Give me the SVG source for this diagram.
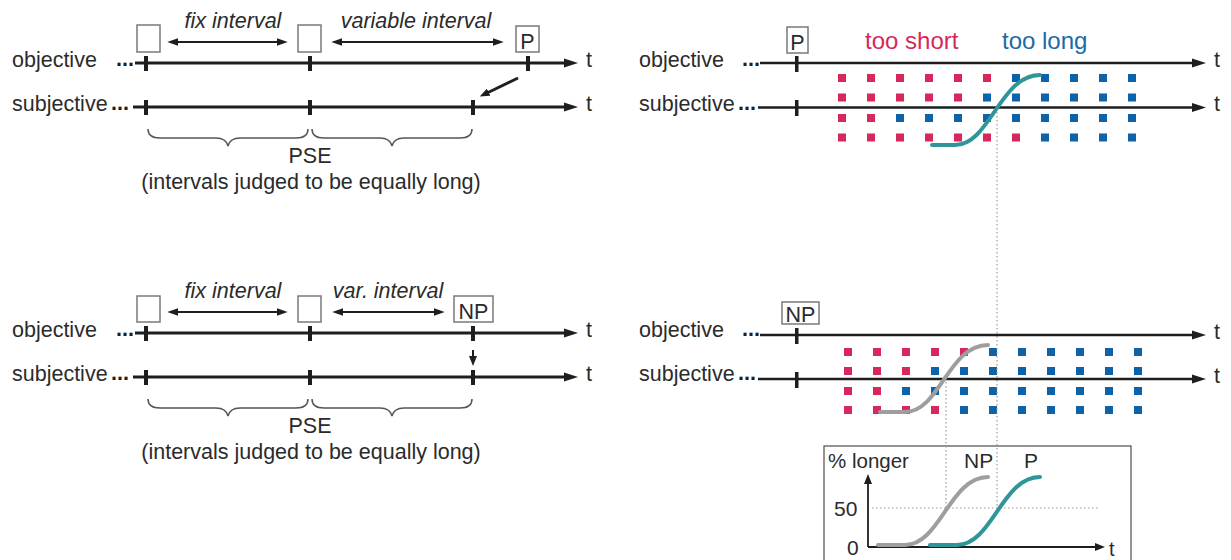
<svg xmlns="http://www.w3.org/2000/svg" width="1231" height="560" viewBox="0 0 1231 560">
  <defs>
    <style>
      text { font-family: "Liberation Sans", Arial, sans-serif; fill: #2b2b2b; }
      .lbl { font-size: 21.5px; }
      .it { font-size: 21.5px; font-style: italic; }
      .dots { font-size: 21.5px; font-weight: bold; fill: #1e1e1e; }
      .axis { stroke: #1e1e1e; stroke-width: 3; fill: none; marker-end: url(#head); }
      .axis2 { stroke: #1e1e1e; stroke-width: 2.4; fill: none; marker-end: url(#head); }
      .tick { fill: #1e1e1e; }
      .box { fill: #fff; stroke: #7a7a7a; stroke-width: 1.5; }
      .dbl { stroke: #1e1e1e; stroke-width: 2; fill: none; marker-start: url(#small); marker-end: url(#small); }
      .brace { stroke: #555; stroke-width: 1.5; fill: none; }
      .r { fill: #d6285a; }
      .b { fill: #0d63a9; }
      .dot { stroke: #9a9a9a; stroke-width: 1.2; stroke-dasharray: 1.5 2.5; fill: none; }
      .teal { stroke: #2f9598; stroke-width: 4; fill: none; stroke-linecap: round; }
      .grey { stroke: #9e9e9e; stroke-width: 4; fill: none; stroke-linecap: round; }
    </style>
    <marker id="head" viewBox="0 0 14 10" markerWidth="14" markerHeight="10" refX="4" refY="5" orient="auto" markerUnits="userSpaceOnUse">
      <path d="M0,0.5 L14,5 L0,9.5 z" fill="#1e1e1e"/>
    </marker>
    <marker id="small" viewBox="0 0 10 8" markerWidth="11" markerHeight="9" refX="3" refY="4" orient="auto-start-reverse" markerUnits="userSpaceOnUse">
      <path d="M0,0.5 L10,4 L0,7.5 z" fill="#1e1e1e"/>
    </marker>
    <marker id="head2" viewBox="0 0 10 8" markerWidth="10" markerHeight="8" refX="3" refY="4" orient="auto" markerUnits="userSpaceOnUse">
      <path d="M0,0 L10,4 L0,8 z" fill="#1e1e1e"/>
    </marker>
  </defs>

  <!-- Panel A: prime condition, timeline -->
  <g id="panel-prime">
    <text class="lbl" x="12" y="67">objective</text>
    <text class="dots" x="116" y="66">...</text>
    <text class="lbl" x="12" y="111">subjective</text>
    <text class="dots" x="111" y="110">...</text>
    <text class="lbl" x="586" y="67">t</text>
    <text class="lbl" x="586" y="111">t</text>
    <rect class="box" x="137" y="25" width="23" height="27"/>
    <rect class="box" x="298" y="25" width="23" height="27"/>
    <rect class="box" x="516" y="26" width="23" height="26"/>
    <text class="lbl" x="527.5" y="49" text-anchor="middle">P</text>
    <text class="it" x="233" y="28" text-anchor="middle">fix interval</text>
    <text class="it" x="416" y="28" text-anchor="middle">variable interval</text>
    <text class="lbl" x="310" y="163" text-anchor="middle">PSE</text>
    <text class="lbl" x="311" y="189" text-anchor="middle">(intervals judged to be equally long)</text>
  </g>

  <!-- Panel B: no-prime condition, timeline -->
  <g id="panel-noprime">
    <text class="lbl" x="12" y="337">objective</text>
    <text class="dots" x="116" y="336">...</text>
    <text class="lbl" x="12" y="381">subjective</text>
    <text class="dots" x="111" y="380">...</text>
    <text class="lbl" x="586" y="337">t</text>
    <text class="lbl" x="586" y="381">t</text>
    <rect class="box" x="137" y="296" width="23" height="26"/>
    <rect class="box" x="298" y="296" width="23" height="26"/>
    <rect class="box" x="454" y="296" width="39" height="26"/>
    <text class="lbl" x="473.5" y="319" text-anchor="middle">NP</text>
    <text class="it" x="233" y="298" text-anchor="middle">fix interval</text>
    <text class="it" x="388" y="298" text-anchor="middle">var. interval</text>
    <text class="lbl" x="310" y="433" text-anchor="middle">PSE</text>
    <text class="lbl" x="311" y="459" text-anchor="middle">(intervals judged to be equally long)</text>
  </g>

  <!-- Panel C: prime condition, judgements -->
  <g id="panel-prime-judge">
    <text class="lbl" x="639" y="67">objective</text>
    <text class="dots" x="742" y="66">...</text>
    <text class="lbl" x="639" y="111">subjective</text>
    <text class="dots" x="738" y="110">...</text>
    <text class="lbl" x="1214" y="67">t</text>
    <text class="lbl" x="1214" y="111">t</text>
    <rect class="box" x="787" y="27" width="21" height="26"/>
    <text class="lbl" x="797.5" y="50" text-anchor="middle">P</text>
    <text x="865" y="49" style="font-size:24px;fill:#d6285a">too short</text>
    <text x="1002" y="49" style="font-size:24px;fill:#1a6aa8">too long</text>
    <g id="grid-prime">
      <rect class="r" x="838" y="74" width="8" height="8"/><rect class="r" x="867" y="74" width="8" height="8"/><rect class="r" x="896" y="74" width="8" height="8"/><rect class="r" x="925" y="74" width="8" height="8"/><rect class="r" x="954" y="74" width="8" height="8"/><rect class="r" x="983" y="74" width="8" height="8"/><rect class="b" x="1012" y="74" width="8" height="8"/><rect class="b" x="1041" y="74" width="8" height="8"/><rect class="b" x="1070" y="74" width="8" height="8"/><rect class="b" x="1099" y="74" width="8" height="8"/><rect class="b" x="1128" y="74" width="8" height="8"/>
      <rect class="r" x="838" y="93.5" width="8" height="8"/><rect class="r" x="867" y="93.5" width="8" height="8"/><rect class="r" x="896" y="93.5" width="8" height="8"/><rect class="r" x="925" y="93.5" width="8" height="8"/><rect class="r" x="954" y="93.5" width="8" height="8"/><rect class="b" x="983" y="93.5" width="8" height="8"/><rect class="b" x="1012" y="93.5" width="8" height="8"/><rect class="b" x="1041" y="93.5" width="8" height="8"/><rect class="b" x="1070" y="93.5" width="8" height="8"/><rect class="b" x="1099" y="93.5" width="8" height="8"/><rect class="b" x="1128" y="93.5" width="8" height="8"/>
      <rect class="r" x="838" y="114" width="8" height="8"/><rect class="r" x="867" y="114" width="8" height="8"/><rect class="b" x="896" y="114" width="8" height="8"/><rect class="b" x="925" y="114" width="8" height="8"/><rect class="b" x="954" y="114" width="8" height="8"/><rect class="b" x="983" y="114" width="8" height="8"/><rect class="b" x="1012" y="114" width="8" height="8"/><rect class="b" x="1041" y="114" width="8" height="8"/><rect class="b" x="1070" y="114" width="8" height="8"/><rect class="b" x="1099" y="114" width="8" height="8"/><rect class="b" x="1128" y="114" width="8" height="8"/>
      <rect class="r" x="838" y="133.5" width="8" height="8"/><rect class="r" x="867" y="133.5" width="8" height="8"/><rect class="r" x="896" y="133.5" width="8" height="8"/><rect class="r" x="925" y="133.5" width="8" height="8"/><rect class="r" x="954" y="133.5" width="8" height="8"/><rect class="r" x="983" y="133.5" width="8" height="8"/><rect class="r" x="1012" y="133.5" width="8" height="8"/><rect class="b" x="1041" y="133.5" width="8" height="8"/><rect class="b" x="1070" y="133.5" width="8" height="8"/><rect class="b" x="1099" y="133.5" width="8" height="8"/><rect class="b" x="1128" y="133.5" width="8" height="8"/>
    </g>
  </g>

  <!-- Panel D: no-prime condition, judgements -->
  <g id="panel-noprime-judge">
    <text class="lbl" x="639" y="337">objective</text>
    <text class="dots" x="742" y="336">...</text>
    <text class="lbl" x="639" y="381">subjective</text>
    <text class="dots" x="738" y="380">...</text>
    <text class="lbl" x="1214" y="339">t</text>
    <text class="lbl" x="1214" y="383">t</text>
    <rect class="box" x="782" y="302" width="37" height="22"/>
    <text class="lbl" x="800.5" y="322" text-anchor="middle">NP</text>
    <g id="grid-noprime">
      <rect class="r" x="844" y="348" width="8" height="8"/><rect class="r" x="873" y="348" width="8" height="8"/><rect class="r" x="902" y="348" width="8" height="8"/><rect class="r" x="931" y="348" width="8" height="8"/><rect class="r" x="960" y="348" width="8" height="8"/><rect class="b" x="989" y="348" width="8" height="8"/><rect class="b" x="1018" y="348" width="8" height="8"/><rect class="b" x="1047" y="348" width="8" height="8"/><rect class="b" x="1076" y="348" width="8" height="8"/><rect class="b" x="1105" y="348" width="8" height="8"/><rect class="b" x="1134" y="348" width="8" height="8"/>
      <rect class="r" x="844" y="367" width="8" height="8"/><rect class="r" x="873" y="367" width="8" height="8"/><rect class="r" x="902" y="367" width="8" height="8"/><rect class="b" x="931" y="367" width="8" height="8"/><rect class="b" x="960" y="367" width="8" height="8"/><rect class="b" x="989" y="367" width="8" height="8"/><rect class="b" x="1018" y="367" width="8" height="8"/><rect class="b" x="1047" y="367" width="8" height="8"/><rect class="b" x="1076" y="367" width="8" height="8"/><rect class="b" x="1105" y="367" width="8" height="8"/><rect class="b" x="1134" y="367" width="8" height="8"/>
      <rect class="r" x="844" y="387" width="8" height="8"/><rect class="r" x="873" y="387" width="8" height="8"/><rect class="b" x="902" y="387" width="8" height="8"/><rect class="b" x="931" y="387" width="8" height="8"/><rect class="b" x="960" y="387" width="8" height="8"/><rect class="b" x="989" y="387" width="8" height="8"/><rect class="b" x="1018" y="387" width="8" height="8"/><rect class="b" x="1047" y="387" width="8" height="8"/><rect class="b" x="1076" y="387" width="8" height="8"/><rect class="b" x="1105" y="387" width="8" height="8"/><rect class="b" x="1134" y="387" width="8" height="8"/>
      <rect class="r" x="844" y="406" width="8" height="8"/><rect class="r" x="873" y="406" width="8" height="8"/><rect class="r" x="902" y="406" width="8" height="8"/><rect class="r" x="931" y="406" width="8" height="8"/><rect class="b" x="960" y="406" width="8" height="8"/><rect class="b" x="989" y="406" width="8" height="8"/><rect class="b" x="1018" y="406" width="8" height="8"/><rect class="b" x="1047" y="406" width="8" height="8"/><rect class="b" x="1076" y="406" width="8" height="8"/><rect class="b" x="1105" y="406" width="8" height="8"/><rect class="b" x="1134" y="406" width="8" height="8"/>
    </g>
  </g>

  <!-- Inset: psychometric functions -->
  <g id="inset">
    <rect x="824" y="446" width="307" height="130" fill="#fff" stroke="#5a5a5a" stroke-width="1.3"/>
    <text x="828" y="468" style="font-size:20.5px">% longer</text>
    <text x="964" y="468" style="font-size:21px">NP</text>
    <text x="1024" y="468" style="font-size:21px">P</text>
    <text x="834" y="516" style="font-size:21px">50</text>
    <text x="847" y="555" style="font-size:21px">0</text>
    <text x="1109" y="556" style="font-size:20px">t</text>
  </g>

  <!-- Connectors: timelines, ticks, arrows, braces, curves, guide lines -->
  <g id="connectors">
    <!-- guide lines -->
    <path class="dot" d="M997,112 V508"/>
    <path class="dot" d="M946,382 V508"/>
    <path class="dot" d="M872,508 H1100"/>

    <!-- timelines -->
    <line class="axis" x1="135" y1="63" x2="568" y2="63"/>
    <line class="axis" x1="133" y1="107" x2="568" y2="107"/>
    <line class="axis" x1="135" y1="333" x2="568" y2="333"/>
    <line class="axis" x1="133" y1="377" x2="568" y2="377"/>
    <line class="axis2" x1="760" y1="63" x2="1196" y2="63"/>
    <line class="axis2" x1="758" y1="107.5" x2="1196" y2="107.5"/>
    <line class="axis2" x1="760" y1="335" x2="1196" y2="335"/>
    <line class="axis2" x1="758" y1="379" x2="1196" y2="379"/>

    <!-- ticks -->
    <rect class="tick" x="144" y="56" width="4" height="15"/>
    <rect class="tick" x="308" y="56" width="4" height="15"/>
    <rect class="tick" x="526" y="56" width="4" height="15"/>
    <rect class="tick" x="144" y="100" width="4" height="15"/>
    <rect class="tick" x="308" y="100" width="4" height="15"/>
    <rect class="tick" x="471" y="100" width="4" height="15"/>
    <rect class="tick" x="144" y="326" width="4" height="15"/>
    <rect class="tick" x="308" y="326" width="4" height="15"/>
    <rect class="tick" x="471" y="326" width="4" height="15"/>
    <rect class="tick" x="144" y="370" width="4" height="15"/>
    <rect class="tick" x="308" y="370" width="4" height="15"/>
    <rect class="tick" x="471" y="370" width="4" height="15"/>
    <rect class="tick" x="795" y="56" width="3.5" height="16"/>
    <rect class="tick" x="795" y="100" width="3.5" height="16"/>
    <rect class="tick" x="795" y="328" width="3.5" height="16"/>
    <rect class="tick" x="795" y="372" width="3.5" height="16"/>

    <!-- interval arrows -->
    <line class="dbl" x1="175" y1="42" x2="280" y2="42"/>
    <line class="dbl" x1="339" y1="42" x2="496" y2="42"/>
    <line class="dbl" x1="175" y1="312" x2="280" y2="312"/>
    <line class="dbl" x1="340" y1="312" x2="437" y2="312"/>

    <!-- mapping arrows -->
    <line x1="518" y1="78" x2="486" y2="93.5" stroke="#1e1e1e" stroke-width="2.8" marker-end="url(#head2)"/>
    <line x1="473" y1="350" x2="473" y2="359" stroke="#1e1e1e" stroke-width="2" marker-end="url(#head2)"/>

    <!-- braces -->
    <path class="brace" d="M148,129 Q148,138 160,138 L216,138 Q226,138 228,146 Q230,138 240,138 L296,138 Q308,138 308,129"/>
    <path class="brace" d="M312,129 Q312,138 324,138 L380,138 Q390,138 392,146 Q394,138 404,138 L460,138 Q472,138 472,129"/>
    <path class="brace" d="M148,399 Q148,408 160,408 L216,408 Q226,408 228,416 Q230,408 240,408 L296,408 Q308,408 308,399"/>
    <path class="brace" d="M312,399 Q312,408 324,408 L380,408 Q390,408 392,416 Q394,408 404,408 L460,408 Q472,408 472,399"/>

    <!-- psychometric curves -->
    <path class="teal" d="M932,145 L955,145 C990,145 1000,75 1040,75"/>
    <path class="grey" d="M880,412 L905,412 C940,412 948,345 988,345"/>

    <!-- inset axes and curves -->
    <line x1="868" y1="547" x2="868" y2="481" stroke="#1e1e1e" stroke-width="1.8" marker-end="url(#head2)"/>
    <line x1="868" y1="547" x2="1098" y2="547" stroke="#1e1e1e" stroke-width="1.8" marker-end="url(#head2)"/>
    <path class="grey" d="M878,545 L905,545 C940,545 950,477 988,477"/>
    <path class="teal" d="M930,545 L957,545 C992,545 1002,477 1040,477"/>
  </g>
</svg>
